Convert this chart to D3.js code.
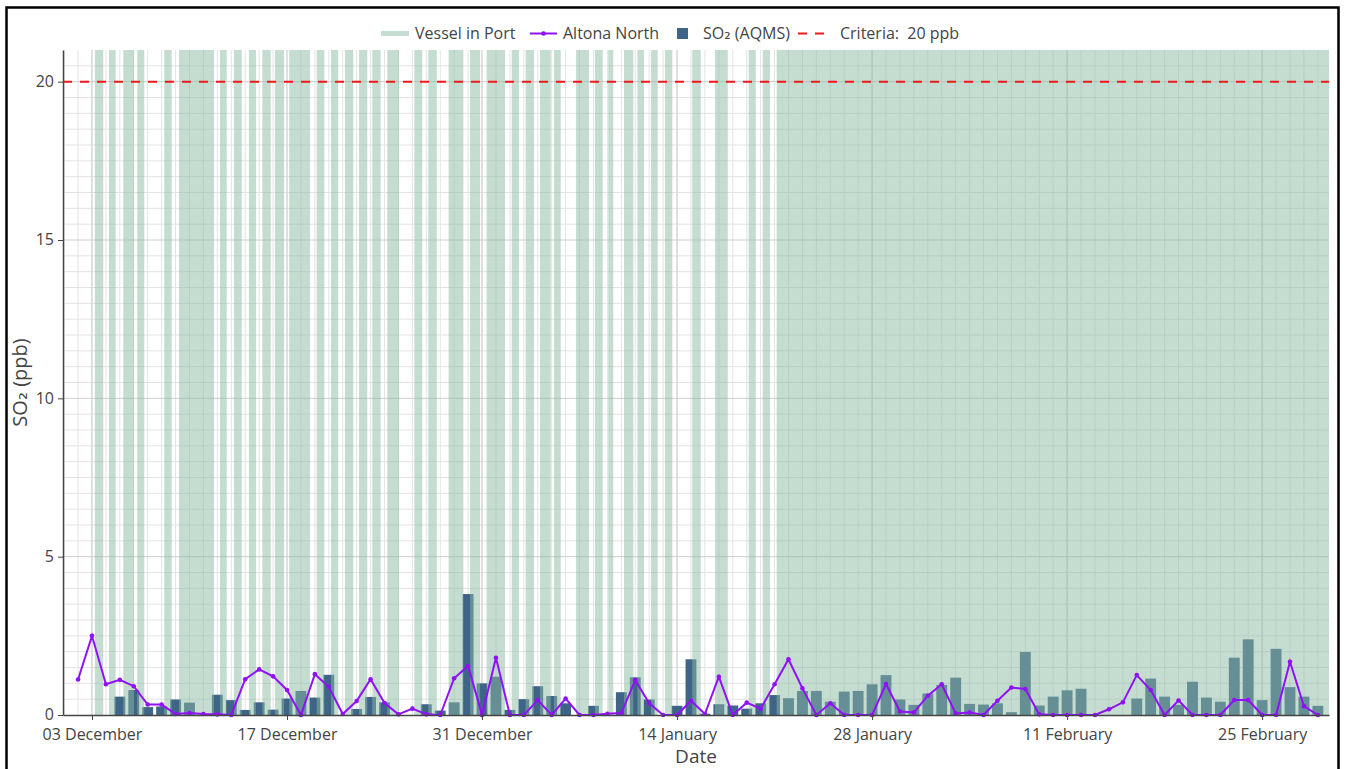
<!DOCTYPE html>
<html>
<head>
<meta charset="utf-8">
<script src="https://cdn.jsdelivr.net/npm/d3@7"></script>
<style>
  body { margin: 0; background: #fff; }
  text { font-family: "Open Sans", sans-serif; fill: #444; }
  .sub { font-family: "DejaVu Sans", sans-serif; }
</style>
</head>
<body>
<svg id="chart" width="1346" height="769"></svg>
<script>
// daily values, 02 Dec 2023 .. 29 Feb 2024
const firstDay = new Date(2023, 11, 2);

const altonaNorth = [
  1.12, 2.50, 0.97, 1.11, 0.91, 0.33, 0.33, 0.03, 0.06, 0.03,
  0.02, 0.00, 1.13, 1.44, 1.22, 0.79, 0.00, 1.29, 0.89, 0.03,
  0.44, 1.13, 0.38, 0.02, 0.20, 0.02, 0.00, 1.16, 1.55, 0.00,
  1.81, 0.00, 0.00, 0.47, 0.00, 0.52, 0.00, 0.00, 0.04, 0.06,
  1.10, 0.37, 0.00, 0.00, 0.45, 0.03, 1.21, 0.00, 0.39, 0.20,
  0.97, 1.76, 0.84, 0.00, 0.37, 0.00, 0.00, 0.00, 0.98, 0.11,
  0.08, 0.61, 0.97, 0.05, 0.08, 0.00, 0.45, 0.87, 0.82, 0.02,
  0.00, 0.00, 0.00, 0.00, 0.18, 0.40, 1.26, 0.79, 0.00, 0.46,
  0.00, 0.00, 0.00, 0.47, 0.47, 0.00, 0.00, 1.68, 0.28, 0.00
];

const so2Aqms = [
  null, null, null, 0.58, 0.79, 0.25, 0.27, 0.49, 0.39, null,
  0.64, 0.47, 0.16, 0.40, 0.17, 0.52, 0.76, 0.55, 1.27, null,
  0.19, 0.57, 0.40, null, null, 0.34, 0.14, 0.40, 3.82, 1.00,
  1.21, 0.16, 0.50, 0.91, 0.60, 0.37, null, 0.29, null, 0.72,
  1.19, 0.49, null, 0.29, 1.76, 0.04, 0.34, 0.30, 0.20, 0.37,
  0.63, 0.53, 0.76, 0.76, 0.42, 0.74, 0.76, 0.97, 1.26, 0.49,
  0.32, 0.68, 0.95, 1.18, 0.35, 0.33, 0.37, 0.09, 1.99, 0.30,
  0.58, 0.78, 0.83, null, null, null, 0.52, 1.15, 0.58, 0.32,
  1.05, 0.55, 0.42, 1.81, 2.39, 0.47, 2.09, 0.88, 0.58, 0.29
];

// vessel in port: arrival / departure in days after 02 Dec 00:00
const vesselArrive = [1.21, 2.22, 3.25, 4.25, 6.19, 7.25, 10.19, 11.19, 12.27, 13.23,
  14.14, 15.16, 17.13, 18.16, 19.16, 20.17, 21.12, 22.20, 24.14, 25.14,
  26.60, 28.14, 29.33, 31.13, 32.13, 33.16, 34.17, 35.75, 37.11, 38.06,
  39.19, 40.15, 41.13, 42.13, 44.09, 45.72, 48.14, 49.15, 50.15];
const vesselDepart = [1.81, 2.70, 4.01, 4.75, 6.72, 9.76, 10.67, 11.75, 12.77, 13.83,
  14.79, 16.65, 17.68, 18.68, 19.76, 20.76, 21.72, 23.04, 24.71, 25.75,
  27.66, 28.86, 30.65, 31.65, 32.73, 33.93, 34.65, 36.68, 37.66, 38.42,
  39.86, 40.63, 41.61, 42.66, 44.70, 46.64, 48.65, 49.67, 89.80];

const criteria = 20;
const tickDays = ['2023-12-03', '2023-12-17', '2023-12-31', '2024-01-14',
  '2024-01-28', '2024-02-11', '2024-02-25'];

const svg = d3.select('#chart');
const margin = { left: 63, right: 1329, top: 50, bottom: 715 };
const dayMs = 864e5;
const atDay = d => new Date(firstDay.getTime() + d * dayMs);

const x = d3.scaleTime()
  .domain([atDay(-1.08), atDay(89.8)])
  .range([margin.left, margin.right]);
const y = d3.scaleLinear().domain([0, 21]).range([margin.bottom, margin.top]);

const days = altonaNorth.map((v, i) => d3.timeDay.offset(firstDay, i));
const ticks = tickDays.map(s => d3.timeParse('%Y-%m-%d')(s));

svg.append('rect').attr('width', 1346).attr('height', 769).attr('fill', '#fff');

svg.append('defs').append('clipPath').attr('id', 'plot')
  .append('rect')
  .attr('x', margin.left).attr('y', margin.top)
  .attr('width', margin.right - margin.left)
  .attr('height', margin.bottom - margin.top);

const gGrid = svg.append('g');

// minor grid
gGrid.selectAll('none')
  .data(d3.timeDay.range(x.domain()[0], x.domain()[1]))
  .enter().append('line')
  .attr('x1', d => x(d)).attr('x2', d => x(d))
  .attr('y1', margin.top).attr('y2', margin.bottom)
  .attr('stroke', '#e3e3e3');

gGrid.selectAll('none')
  .data(d3.range(0.5, 21, 0.5))
  .enter().append('line')
  .attr('x1', margin.left).attr('x2', margin.right)
  .attr('y1', d => y(d)).attr('y2', d => y(d))
  .attr('stroke', d => d % 5 === 0 ? '#cecece' : '#e3e3e3');

gGrid.selectAll('none')
  .data(ticks)
  .enter().append('line')
  .attr('x1', d => x(d)).attr('x2', d => x(d))
  .attr('y1', margin.top).attr('y2', margin.bottom)
  .attr('stroke', '#cecece');

// bars
const barW = x(atDay(0.78)) - x(atDay(0));
svg.append('g')
  .selectAll('none')
  .data(days.map((d, i) => ({ d, v: so2Aqms[i] })).filter(o => o.v !== null))
  .enter().append('rect')
  .attr('x', o => x(o.d) - barW / 2)
  .attr('width', barW)
  .attr('y', o => y(o.v))
  .attr('height', o => y(0) - y(o.v))
  .attr('fill', '#3e6587');

// vessel in port shading, on top of bars
svg.append('g')
  .attr('clip-path', 'url(#plot)')
  .selectAll('none')
  .data(vesselArrive.map((a, i) => [atDay(a), atDay(vesselDepart[i])]))
  .enter().append('rect')
  .attr('x', d => x(d[0]))
  .attr('width', d => x(d[1]) - x(d[0]))
  .attr('y', margin.top)
  .attr('height', margin.bottom - margin.top)
  .attr('fill', 'rgba(140,186,164,0.5)');

// criteria line
svg.append('line')
  .attr('x1', margin.left).attr('x2', margin.right)
  .attr('y1', y(criteria)).attr('y2', y(criteria))
  .attr('stroke', '#f01818')
  .attr('stroke-width', 2)
  .attr('stroke-dasharray', '9,8');

// Altona North
const purple = '#9010f8';
svg.append('path')
  .datum(altonaNorth)
  .attr('fill', 'none')
  .attr('stroke', purple)
  .attr('stroke-width', 2)
  .attr('d', d3.line().x((v, i) => x(days[i])).y(v => y(v)));

svg.append('g')
  .selectAll('none')
  .data(altonaNorth)
  .enter().append('circle')
  .attr('cx', (v, i) => x(days[i]))
  .attr('cy', v => y(v))
  .attr('r', 2.3)
  .attr('fill', purple);

// axes
const xAxis = svg.append('g')
  .attr('transform', `translate(0,${margin.bottom})`)
  .call(d3.axisBottom(x).tickValues(ticks).tickFormat(d3.timeFormat('%d %B')).tickSize(5).tickSizeOuter(0));
const yAxis = svg.append('g')
  .attr('transform', `translate(${margin.left},0)`)
  .call(d3.axisLeft(y).tickValues([0, 5, 10, 15, 20]).tickSize(5).tickSizeOuter(0));

[xAxis, yAxis].forEach(g => {
  g.select('.domain').attr('stroke', '#444').attr('stroke-width', 1.5);
  g.selectAll('.tick line').attr('stroke', '#444');
  g.selectAll('.tick text').attr('font-size', 16).attr('fill', '#444')
    .style('font-family', '"Open Sans", sans-serif');
});
xAxis.selectAll('.tick text').attr('y', 14).attr('dy', '0.71em');
yAxis.selectAll('.tick text').attr('x', -9).attr('dy', '0.3em');

svg.append('text')
  .attr('x', (margin.left + margin.right) / 2)
  .attr('y', 763)
  .attr('text-anchor', 'middle')
  .attr('font-size', 19)
  .text('Date');

const yTitle = svg.append('text')
  .attr('transform', `translate(27,${(margin.top + margin.bottom) / 2}) rotate(-90)`)
  .attr('text-anchor', 'middle')
  .attr('font-size', 20);
yTitle.append('tspan').text('SO');
yTitle.append('tspan').attr('class', 'sub').text('₂');
yTitle.append('tspan').text(' (ppb)');

// legend
const legend = svg.append('g').attr('font-size', 16);
const ly = 33.5;
legend.append('rect').attr('x', 381).attr('y', ly - 2.5).attr('width', 28).attr('height', 5)
  .attr('fill', 'rgba(140,186,164,0.5)');
legend.append('text').attr('x', 415).attr('y', ly + 5.5).text('Vessel in Port');

legend.append('line').attr('x1', 530).attr('x2', 557).attr('y1', ly).attr('y2', ly)
  .attr('stroke', purple).attr('stroke-width', 2);
legend.append('circle').attr('cx', 543.5).attr('cy', ly).attr('r', 2.3).attr('fill', purple);
legend.append('text').attr('x', 563).attr('y', ly + 5.5).text('Altona North');

legend.append('rect').attr('x', 677).attr('y', ly - 5.5).attr('width', 11).attr('height', 11)
  .attr('fill', '#3e6587');
const so2Label = legend.append('text').attr('x', 703).attr('y', ly + 5.5);
so2Label.append('tspan').text('SO');
so2Label.append('tspan').attr('class', 'sub').text('₂');
so2Label.append('tspan').text(' (AQMS)');

legend.append('line').attr('x1', 798).attr('x2', 824).attr('y1', ly).attr('y2', ly)
  .attr('stroke', '#f01818').attr('stroke-width', 2).attr('stroke-dasharray', '9,8');
legend.append('text').attr('x', 840).attr('y', ly + 5.5).style('white-space', 'pre')
  .text('Criteria:  20 ppb');

// frame
svg.append('rect')
  .attr('x', 6.5).attr('y', 7.5).attr('width', 1332).attr('height', 780)
  .attr('fill', 'none').attr('stroke', '#000').attr('stroke-width', 2.5);
</script>
</body>
</html>
